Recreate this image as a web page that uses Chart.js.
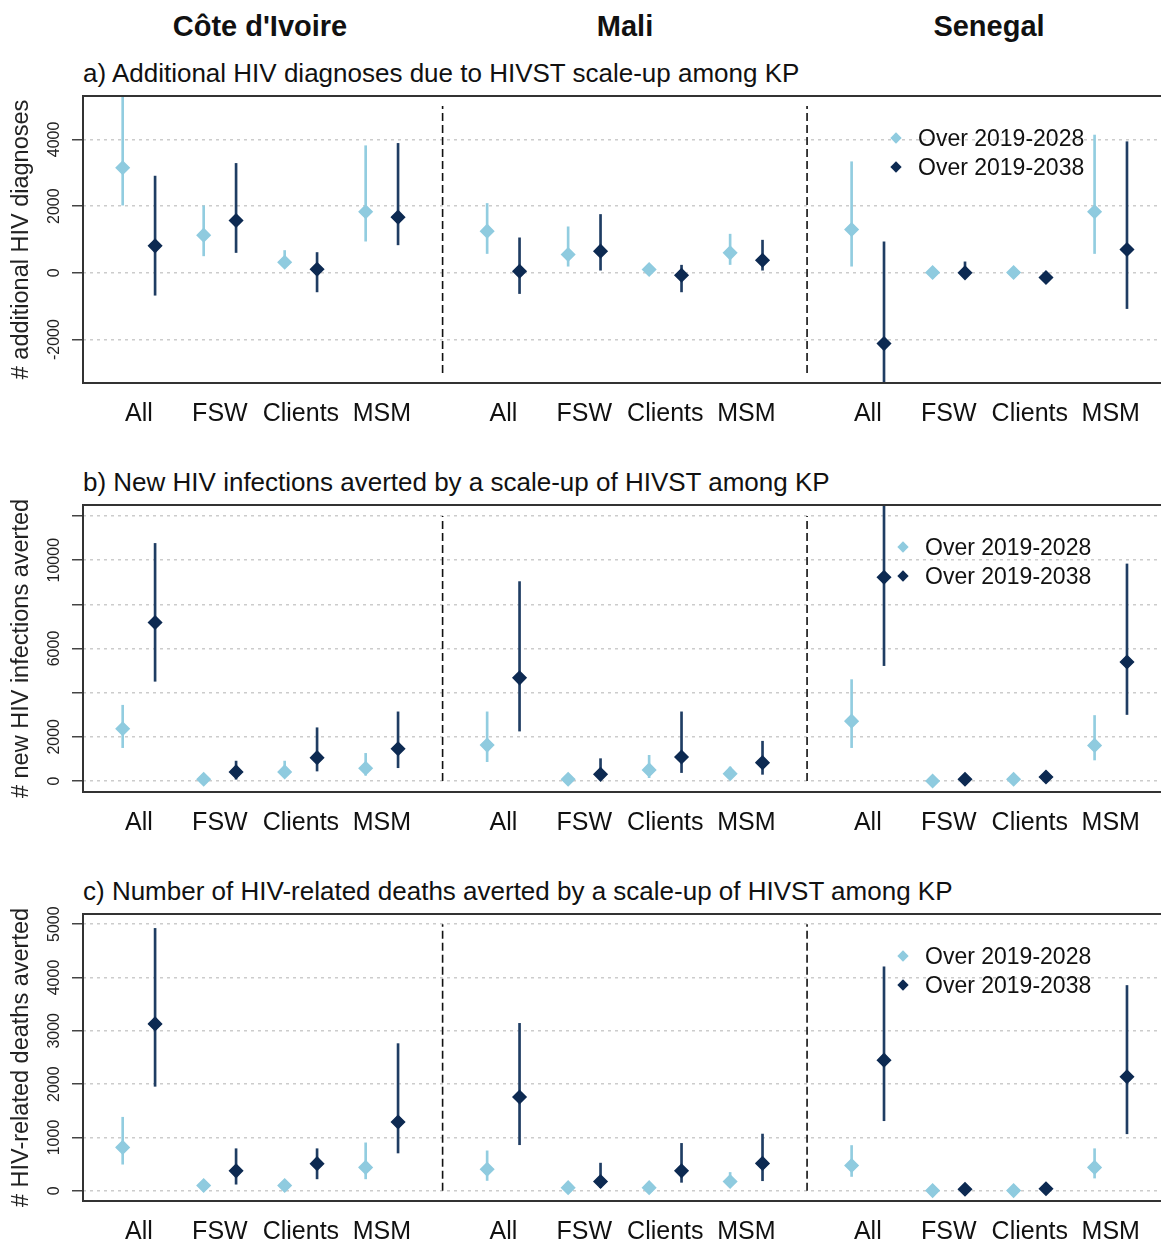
<!DOCTYPE html>
<html lang="en">
<head>
  <meta charset="UTF-8" />
  <title>HIVST scale-up among KP</title>
  <script src="https://cdn.jsdelivr.net/npm/chart.js"></script>
  <style>
    body {
      margin: 0;
      background: #ffffff;
      font-family: 'Liberation Sans', Arial, sans-serif;
      color: #111;
    }
    .page {
      position: relative;
      width: 1161px;
      height: 1245px;
      overflow: hidden;
    }
    .country {
      position: absolute;
      width: 300px;
      top: 9px;
      text-align: center;
      font-weight: bold;
      font-size: 29px;
      line-height: 34px;
    }
    .title {
      position: absolute;
      left: 83px;
      font-size: 26px;
      line-height: 30px;
      white-space: nowrap;
    }
    .panel {
      position: absolute;
      left: 0;
      width: 1161px;
      height: 341px;
    }
    .legend {
      position: absolute;
      font-size: 23px;
      line-height: 29px;
    }
    .legend div { position: relative; padding-left: 26px; white-space: nowrap; }
    .legend span {
      position: absolute;
      left: 0;
      top: 10px;
      width: 8px;
      height: 8px;
      transform: rotate(45deg);
    }
  </style>
</head>
<body>
<div class="page">
  <div class="country" style="left:110px">Côte d'Ivoire</div>
  <div class="country" style="left:475px">Mali</div>
  <div class="country" style="left:839px">Senegal</div>

  <div class="title" style="top:58px">a) Additional HIV diagnoses due to HIVST scale-up among KP</div>
  <div class="panel" style="top:86px"><canvas id="chartA" width="1161" height="341"></canvas></div>

  <div class="title" style="top:467px">b) New HIV infections averted by a scale-up of HIVST among KP</div>
  <div class="panel" style="top:495px"><canvas id="chartB" width="1161" height="341"></canvas></div>

  <div class="title" style="top:876px">c) Number of HIV-related deaths averted by a scale-up of HIVST among KP</div>
  <div class="panel" style="top:904px"><canvas id="chartC" width="1161" height="341"></canvas></div>

  <div class="legend" style="left:892px; top:124px">
    <div><span style="background:#8fcbdf"></span>Over 2019-2028</div>
    <div><span style="background:#0d2a52"></span>Over 2019-2038</div>
  </div>
  <div class="legend" style="left:899px; top:533px">
    <div><span style="background:#8fcbdf"></span>Over 2019-2028</div>
    <div><span style="background:#0d2a52"></span>Over 2019-2038</div>
  </div>
  <div class="legend" style="left:899px; top:942px">
    <div><span style="background:#8fcbdf"></span>Over 2019-2028</div>
    <div><span style="background:#0d2a52"></span>Over 2019-2038</div>
  </div>
</div>

<script>
  // groups inside each country, country order: Côte d'Ivoire, Mali, Senegal
  const groups = ['All', 'FSW', 'Clients', 'MSM'];
  const countries = ["Côte d'Ivoire", 'Mali', 'Senegal'];

  // a) additional HIV diagnoses
  const diag28Mid = [3150, 1130, 320, 1830, 1250, 550, 100, 600, 1300, 10, 10, 1830];
  const diag28Lo  = [2030, 510, 180, 950, 580, 200, 20, 250, 200, -60, -40, 580];
  const diag28Hi  = [5400, 2010, 670, 3810, 2080, 1380, 200, 1160, 3330, 80, 60, 4130];
  const diag38Mid = [810, 1570, 110, 1670, 50, 650, -70, 380, -2120, 0, -140, 700];
  const diag38Lo  = [-670, 610, -570, 840, -620, 80, -570, 80, -3500, -120, -220, -1070];
  const diag38Hi  = [2900, 3280, 610, 3880, 1050, 1750, 230, 980, 930, 330, -60, 3930];

  // b) new HIV infections averted
  const inf28Mid = [2365, 77, 410, 573, 1625, 77, 500, 330, 2710, 0, 77, 1610];
  const inf28Lo  = [1510, 20, 230, 257, 875, 20, 150, 110, 1510, -30, 20, 950];
  const inf28Hi  = [3430, 200, 900, 1250, 3130, 200, 1160, 630, 4590, 60, 150, 2965];
  const inf38Mid = [7180, 410, 1055, 1460, 4670, 300, 1085, 830, 9230, 77, 180, 5390];
  const inf38Lo  = [4515, 80, 450, 600, 2260, 77, 380, 300, 5225, 20, 100, 3010];
  const inf38Hi  = [10760, 900, 2410, 3130, 9030, 1010, 3130, 1800, 13000, 200, 280, 9830];

  // c) HIV-related deaths averted
  const dth28Mid = [815, 100, 100, 440, 405, 60, 60, 175, 475, 5, 5, 440];
  const dth28Lo  = [500, 50, 50, 225, 195, 20, 20, 80, 270, -20, -20, 240];
  const dth28Hi  = [1380, 170, 160, 900, 750, 130, 120, 345, 850, 30, 30, 790];
  const dth38Mid = [3130, 375, 510, 1290, 1760, 175, 375, 515, 2450, 30, 40, 2140];
  const dth38Lo  = [1960, 125, 225, 710, 865, 60, 160, 190, 1315, 0, 10, 1070];
  const dth38Hi  = [4920, 790, 790, 2760, 3140, 520, 890, 1065, 4200, 80, 80, 3850];

  // y ticks (grid) and the ones that carry a label
  const diagTicks = [-2000, 0, 2000, 4000];
  const diagLabels = [-2000, 0, 2000, 4000];
  const infTicks = [0, 2000, 4000, 6000, 8000, 10000, 12000];
  const infLabels = [0, 2000, 6000, 10000];
  const dthTicks = [0, 1000, 2000, 3000, 4000, 5000];
  const dthLabels = [0, 1000, 2000, 3000, 4000, 5000];

  const COUNTRY_GAP = 4.5;
  const SHIFT = 0.2;
  const LIGHT = '#8fcbdf';
  const DARK = '#0d2a52';
  const FONT = "'Liberation Sans', Arial, sans-serif";

  Chart.defaults.font.family = FONT;
  Chart.defaults.color = '#111';

  const xOf = i => Math.floor(i / groups.length) * COUNTRY_GAP + (i % groups.length);
  const xTickPos = countries.flatMap((c, ci) => groups.map((g, gi) => ci * COUNTRY_GAP + gi));
  const xTickLabels = countries.flatMap(() => groups);
  const separators = [COUNTRY_GAP - 0.75, 2 * COUNTRY_GAP - 0.75];

  const framePlugin = {
    id: 'frame',
    afterDraw(chart, args, opts) {
      const { ctx, chartArea: a } = chart;
      const y = chart.scales.y;
      ctx.save();
      ctx.strokeStyle = '#333';
      ctx.lineWidth = 2;
      ctx.beginPath();
      ctx.moveTo(chart.width + 5, a.top);
      ctx.lineTo(a.left, a.top);
      ctx.lineTo(a.left, a.bottom);
      ctx.lineTo(chart.width + 5, a.bottom);
      ctx.stroke();

      ctx.fillStyle = '#222';
      ctx.font = '16px ' + FONT;
      ctx.textAlign = 'center';
      ctx.textBaseline = 'middle';
      opts.labels.forEach(v => {
        ctx.save();
        ctx.translate(55, y.getPixelForValue(v));
        ctx.rotate(-Math.PI / 2);
        ctx.fillText(String(v), 0, 0);
        ctx.restore();
      });
      ctx.restore();
    }
  };

  const makeChart = (id, cfg) => {
    const errBars = (lo, hi, shift, color) => ({
      type: 'bar',
      data: lo.map((l, i) => ({ x: xOf(i) + shift, y: [l, hi[i]] })),
      backgroundColor: color,
      barThickness: 2,
      grouped: false,
      order: 2
    });
    const points = (mid, shift, color, label) => ({
      type: 'scatter',
      label,
      data: mid.map((v, i) => ({ x: xOf(i) + shift, y: v })),
      backgroundColor: color,
      borderColor: color,
      borderWidth: 1.5,
      pointStyle: 'rectRot',
      pointRadius: 6.5,
      order: 1
    });
    const sepLines = separators.map(s => ({
      type: 'line',
      data: [{ x: s, y: cfg.sepRange[0] }, { x: s, y: cfg.sepRange[1] }],
      borderColor: '#111',
      borderWidth: 1.6,
      borderDash: [8, 4],
      pointRadius: 0,
      order: 3
    }));

    return new Chart(document.getElementById(id), {
      type: 'scatter',
      data: {
        datasets: [
          errBars(cfg.lo28, cfg.hi28, -SHIFT, '#92cde0'),
          errBars(cfg.lo38, cfg.hi38, SHIFT, '#1f3d63'),
          points(cfg.mid28, -SHIFT, LIGHT, 'Over 2019-2028'),
          points(cfg.mid38, SHIFT, DARK, 'Over 2019-2038'),
          ...sepLines
        ]
      },
      options: {
        responsive: false,
        animation: false,
        layout: { autoPadding: false, padding: { top: 10, left: 0, right: 0, bottom: 0 } },
        plugins: {
          legend: { display: false },
          tooltip: { enabled: false },
          frame: { labels: cfg.labels }
        },
        scales: {
          x: {
            type: 'linear',
            min: -0.69,
            max: 12.62,
            offset: false,
            afterBuildTicks: ax => { ax.ticks = xTickPos.map(value => ({ value })); },
            afterFit: ax => { ax.height = 44; },
            grid: { display: false, drawTicks: false },
            border: { display: false },
            ticks: {
              autoSkip: false,
              maxRotation: 0,
              padding: 16,
              color: '#111',
              font: { size: 25 },
              callback: (v, i) => xTickLabels[i]
            }
          },
          y: {
            type: 'linear',
            min: cfg.min,
            max: cfg.max,
            afterBuildTicks: ax => { ax.ticks = cfg.ticks.map(value => ({ value })); },
            afterFit: ax => { ax.width = 83; },
            grid: {
              color: '#cccccc',
              lineWidth: 1.5,
              tickColor: '#444',
              tickLength: 11,
              tickWidth: 1.5
            },
            border: { display: false, dash: [3, 4] },
            ticks: { display: false },
            title: {
              display: true,
              text: cfg.yTitle,
              color: '#222',
              font: { size: 23.5 },
              padding: { top: 7, bottom: 0 }
            }
          }
        }
      },
      plugins: [framePlugin]
    });
  };

  makeChart('chartA', {
    mid28: diag28Mid, lo28: diag28Lo, hi28: diag28Hi,
    mid38: diag38Mid, lo38: diag38Lo, hi38: diag38Hi,
    min: -3300, max: 5300, ticks: diagTicks, labels: diagLabels,
    sepRange: [-3000, 5000],
    yTitle: '# additional HIV diagnoses'
  });

  makeChart('chartB', {
    mid28: inf28Mid, lo28: inf28Lo, hi28: inf28Hi,
    mid38: inf38Mid, lo38: inf38Lo, hi38: inf38Hi,
    min: -500, max: 12500, ticks: infTicks, labels: infLabels,
    sepRange: [0, 12000],
    yTitle: '# new HIV infections averted'
  });

  makeChart('chartC', {
    mid28: dth28Mid, lo28: dth28Lo, hi28: dth28Hi,
    mid38: dth38Mid, lo38: dth38Lo, hi38: dth38Hi,
    min: -190, max: 5190, ticks: dthTicks, labels: dthLabels,
    sepRange: [0, 5000],
    yTitle: '# HIV-related deaths averted'
  });
</script>
</body>
</html>
